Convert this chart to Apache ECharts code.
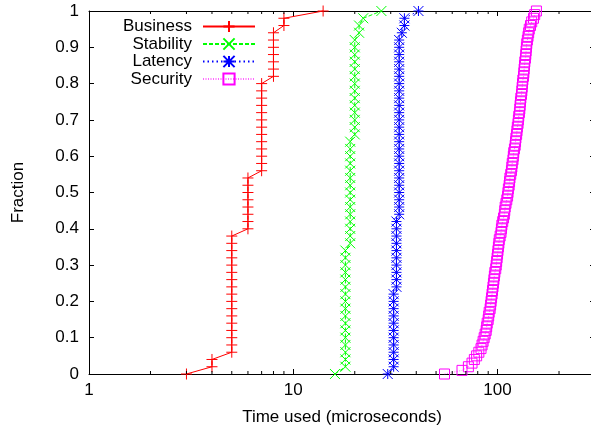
<!DOCTYPE html>
<html>
<head>
<meta charset="utf-8">
<script src="https://cdn.jsdelivr.net/npm/echarts@6/dist/echarts.min.js"></script>
<style>
html,body{margin:0;padding:0;background:#fff;}
#c{width:591px;height:432px;}
</style>
</head>
<body>
<div id="c"></div>
<script>
const seriesNames = ['Business', 'Stability', 'Latency', 'Security'];
const businessValues = [3, 4, 4,
  5, 5, 5, 5, 5, 5, 5, 5, 5, 5, 5, 5, 5, 5, 5, 5, 5,
  6, 6, 6, 6, 6, 6, 6, 6,
  7, 7, 7, 7, 7, 7, 7, 7, 7, 7, 7, 7, 7,
  8, 8, 8, 8, 8, 8, 8,
  9, 9, 14];
const stabilityValues = [16,
  18, 18, 18, 18, 18, 18, 18, 18, 18, 18, 18, 18, 18, 18, 18, 18, 18,
  19, 19, 19, 19, 19, 19, 19, 19, 19, 19, 19, 19, 19, 19, 19,
  20, 20, 20, 20, 20, 20, 20, 20, 20, 20, 20, 20, 20, 20,
  21, 21, 22, 27];
const latencyValues = [29,
  31, 31, 31, 31, 31, 31, 31, 31, 31, 31, 31,
  32, 32, 32, 32, 32, 32, 32, 32, 32, 32,
  33, 33, 33, 33, 33, 33, 33, 33, 33, 33, 33, 33, 33, 33, 33, 33, 33, 33, 33, 33, 33, 33, 33, 33, 33,
  34, 35, 35, 41];
const securityValues = [55, 67, 72, 75, 77, 79, 81, 83, 84, 85,
  86, 87, 88, 88.5, 89, 90, 90.5, 91, 92, 92.5,
  93, 93.5, 94, 94.5, 95, 95.5, 96, 96.5, 97, 98,
  98.5, 99, 99.5, 100, 100.5, 101, 101.5, 102, 103, 104,
  104.5, 105, 106, 107, 108, 108.5, 109, 110, 111, 112,
  112.5, 113, 114, 114.5, 115, 116, 117, 117.5, 118, 119,
  119.5, 120, 121, 122, 122.5, 123, 124, 124.5, 125, 126,
  126.5, 127, 128, 128.5, 129, 129.5, 130, 131, 131.5, 132,
  132.5, 133, 134, 134.5, 135, 135.5, 136, 137, 137.5, 138,
  138.5, 139, 140, 141, 142, 143, 145, 147, 150, 152, 155];
const xMajorTicks = [1, 10, 100];
const xMinorTicks = [2, 3, 4, 5, 6, 7, 8, 9, 20, 30, 40, 50, 60, 70, 80, 90, 200, 300];

function cdf(vals) {
  const n = vals.length;
  return vals.map((v, i) => [v, i / (n - 1)]);
}

const FONT = '"Liberation Sans", Arial, Helvetica, sans-serif';
const colors = ['#ff0000', '#00ff00', '#0000ff', '#ff00ff'];
const symbols = [
  'path://M0,5L10,5M5,0L5,10',
  'path://M0,0L10,10M0,10L10,0',
  'path://M0,5L10,5M5,0L5,10M0,0L10,10M0,10L10,0',
  'rect'
];
const symSizes = [11, 10, 10, 10];
const dashes = ['solid', [4, 2], [1.5, 3], [1, 1.5]];
const allData = [businessValues, stabilityValues, latencyValues, securityValues];

const chart = echarts.init(document.getElementById('c'), null, {renderer: 'canvas'});

const lineSeries = seriesNames.map((name, k) => ({
  name: name,
  type: 'line',
  data: cdf(allData[k]),
  symbol: symbols[k],
  symbolSize: symSizes[k],
  showSymbol: true,
  showAllSymbol: true,
  clip: false,
  z: 3 + k,
  lineStyle: {color: colors[k], width: 1, type: dashes[k], opacity: k === 3 ? 0.6 : 1},
  itemStyle: {color: 'rgba(0,0,0,0)', borderColor: colors[k], borderWidth: 1},
  emphasis: {disabled: true}
}));

const tickSeries = {
  name: 'minorTicks',
  type: 'custom',
  data: xMinorTicks.map(v => [v, 0]),
  encode: {x: 0, y: 1},
  silent: true,
  clip: false,
  z: 10,
  renderItem: function (params, api) {
    const x = api.coord([api.value(0), 0])[0];
    const cs = params.coordSys;
    const yb = cs.y + cs.height;
    const yt = cs.y;
    return {
      type: 'group',
      children: [
        {type: 'line', shape: {x1: x, y1: yb, x2: x, y2: yb - 3}, style: {stroke: '#000', lineWidth: 1}},
        {type: 'line', shape: {x1: x, y1: yt, x2: x, y2: yt + 3}, style: {stroke: '#000', lineWidth: 1}}
      ]
    };
  }
};

const option = {
  animation: false,
  backgroundColor: '#fff',
  textStyle: {fontFamily: FONT},
  grid: {left: 89, top: 11, width: 506, height: 363, outerBoundsMode: 'none', containLabel: false},
  legend: {
    data: seriesNames,
    orient: 'vertical',
    align: 'right',
    right: 335,
    top: 18,
    padding: 0,
    itemWidth: 52,
    itemHeight: 14,
    itemGap: 0.5,
    selectedMode: false,
    textStyle: {fontFamily: FONT, fontSize: 17, color: '#000', padding: [0, 6, 0, 0], lineHeight: 17}
  },
  xAxis: [{
    type: 'log',
    logBase: 10,
    min: 1,
    max: 300,
    position: 'bottom',
    name: 'Time used (microseconds)',
    nameLocation: 'middle',
    nameGap: 35,
    nameTextStyle: {fontFamily: FONT, fontSize: 17, color: '#000'},
    axisLine: {show: true, onZero: false, lineStyle: {color: '#000', width: 1}},
    axisTick: {show: true, inside: true, length: 5, lineStyle: {color: '#000'}},
    axisLabel: {show: true, fontFamily: FONT, fontSize: 17, color: '#000', margin: 8,
      showMaxLabel: false,
      formatter: function (v) { return xMajorTicks.indexOf(Math.round(v)) >= 0 ? String(Math.round(v)) : ''; }},
    splitLine: {show: false},
    minorTick: {show: false}
  }, {
    type: 'log',
    logBase: 10,
    min: 1,
    max: 300,
    position: 'top',
    axisLine: {show: true, onZero: false, lineStyle: {color: '#000', width: 1}},
    axisTick: {show: true, inside: true, length: 5, lineStyle: {color: '#000'}},
    axisLabel: {show: false},
    splitLine: {show: false}
  }],
  yAxis: [{
    type: 'value',
    min: 0,
    max: 1,
    interval: 0.1,
    name: 'Fraction',
    nameLocation: 'middle',
    nameGap: 62,
    nameRotate: 90,
    nameTextStyle: {fontFamily: FONT, fontSize: 17, color: '#000'},
    axisLine: {show: true, onZero: false, lineStyle: {color: '#000', width: 1}},
    axisTick: {show: true, inside: true, length: 5, lineStyle: {color: '#000'}},
    axisLabel: {fontFamily: FONT, fontSize: 17, color: '#000', margin: 10},
    splitLine: {show: false}
  }, {
    type: 'value',
    min: 0,
    max: 1,
    interval: 0.1,
    position: 'right',
    axisLine: {show: true, onZero: false, lineStyle: {color: '#000', width: 1}},
    axisTick: {show: true, inside: true, length: 5, lineStyle: {color: '#000'}},
    axisLabel: {show: false},
    splitLine: {show: false}
  }],
  series: lineSeries.concat([tickSeries])
};

chart.setOption(option);
</script>
</body>
</html>
